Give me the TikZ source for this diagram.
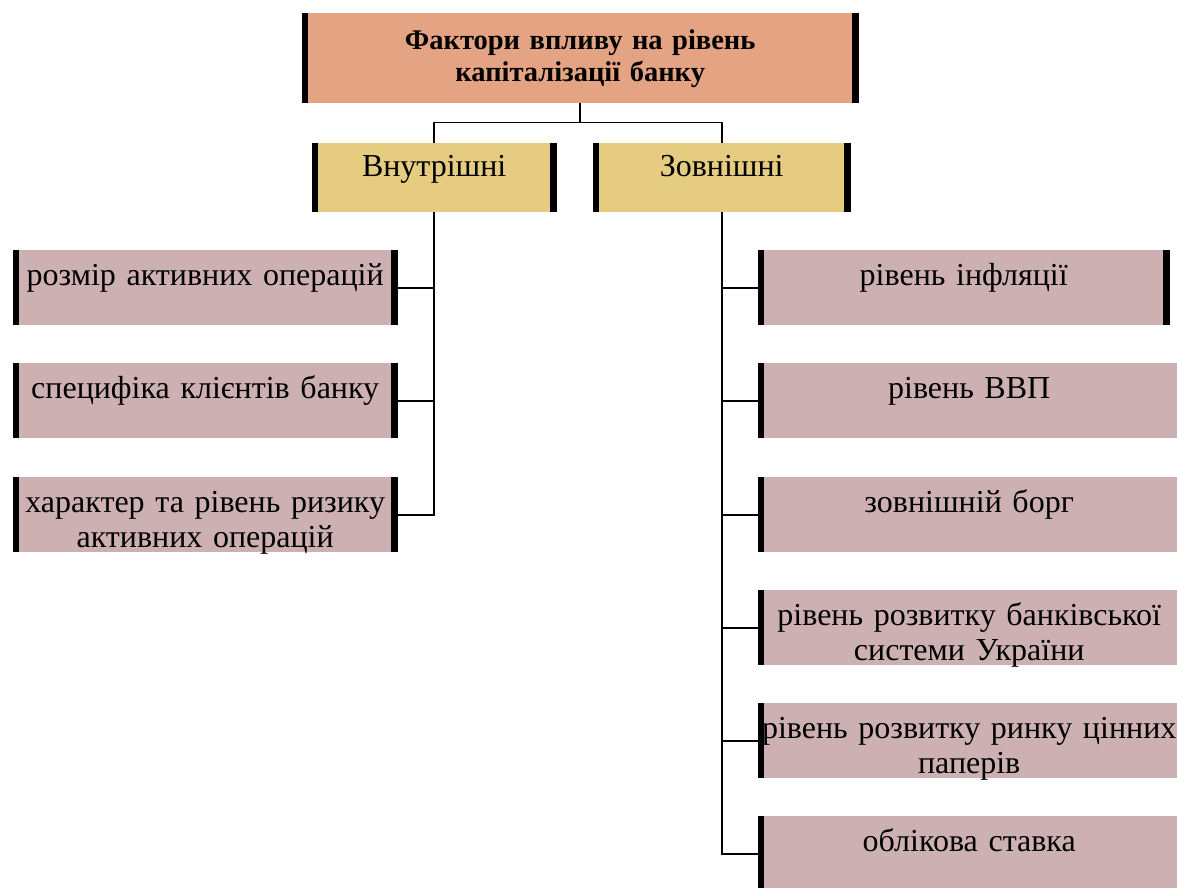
\documentclass[tikz,border=0pt]{standalone}
\usepackage{fontspec}
\setmainfont{Liberation Serif}
\definecolor{titlefill}{RGB}{228,163,130}
\definecolor{groupfill}{RGB}{230,204,128}
\definecolor{factorfill}{RGB}{205,176,177}
\tikzset{
  box/.style={anchor=north west, inner sep=0pt, align=center,
    font=\fontsize{32}{35}\selectfont},
  titlebox/.style={box, fill=titlefill, minimum width=556, minimum height=90,
    text width=540, font=\fontsize{28.5}{32}\selectfont\bfseries},
  groupbox/.style={box, fill=groupfill, minimum height=69,
    text height=33, text depth=36},
  factor/.style={box, fill=factorfill, minimum height=75,
    text height=35, text depth=40},
  bar/.style={line width=6.5pt},
  link/.style={line width=1.8pt}
}
\begin{document}
\begin{tikzpicture}[x=1pt, y=-1pt]
  \useasboundingbox (0,0) rectangle (1177,887);
  \clip (0,0) rectangle (1177,887);
  % top and group boxes
  \node [titlebox] (top) at (302,13) {Фактори впливу на рівень\\капіталізації банку};
  \node [groupbox, minimum width=244, text width=244] (inner) at (312,143) {Внутрішні};
  \node [groupbox, minimum width=257, text width=257] (outer) at (593,143) {Зовнішні};
  % internal factors
  \node [factor, minimum width=384, text width=384] (l1) at (13,250) {розмір активних операцій};
  \node [factor, minimum width=384, text width=384] (l2) at (13,363) {специфіка клієнтів банку};
  \node [factor, minimum width=384, text width=384] (l3) at (13,477) {характер та рівень ризику\\активних операцій};
  % external factors
  \node [factor, minimum width=411, text width=411] (r1) at (758,250) {рівень інфляції};
  \node [factor, minimum width=422, text width=422] (r2) at (758,363) {рівень ВВП};
  \node [factor, minimum width=422, text width=422] (r3) at (758,477) {зовнішній борг};
  \node [factor, minimum width=422, text width=422] (r4) at (758,590) {рівень розвитку банківської\\системи України};
  \node [factor, minimum width=422, text width=422] (r5) at (758,703) {рівень розвитку ринку цінних\\паперів};
  \node [factor, minimum width=422, text width=422] (r6) at (758,816) {облікова ставка};
  % side bars
  \foreach \n in {top,inner,outer,l1,l2,l3,r1,r2,r3,r4,r5,r6}
    \draw [bar] ([xshift=3]\n.north west) -- ([xshift=3]\n.south west);
  \foreach \n in {top,inner,outer,l1,l2,l3,r1}
    \draw [bar] ([xshift=-3]\n.north east) -- ([xshift=-3]\n.south east);
  % connectors
  \coordinate (split) at ([yshift=-19]top.south);
  \draw [link] (top.south) -- (split) -| (inner.north);
  \draw [link] (split) -| (outer.north);
  \draw [link] (inner.south) |- (l3.east);
  \foreach \n in {l1,l2}
    \draw [link] (\n.east) -- (\n.east -| inner.south);
  \draw [link] (outer.south) |- (r6.west);
  \foreach \n in {r1,r2,r3,r4,r5}
    \draw [link] (\n.west) -- (\n.west -| outer.south);
\end{tikzpicture}
\end{document}
